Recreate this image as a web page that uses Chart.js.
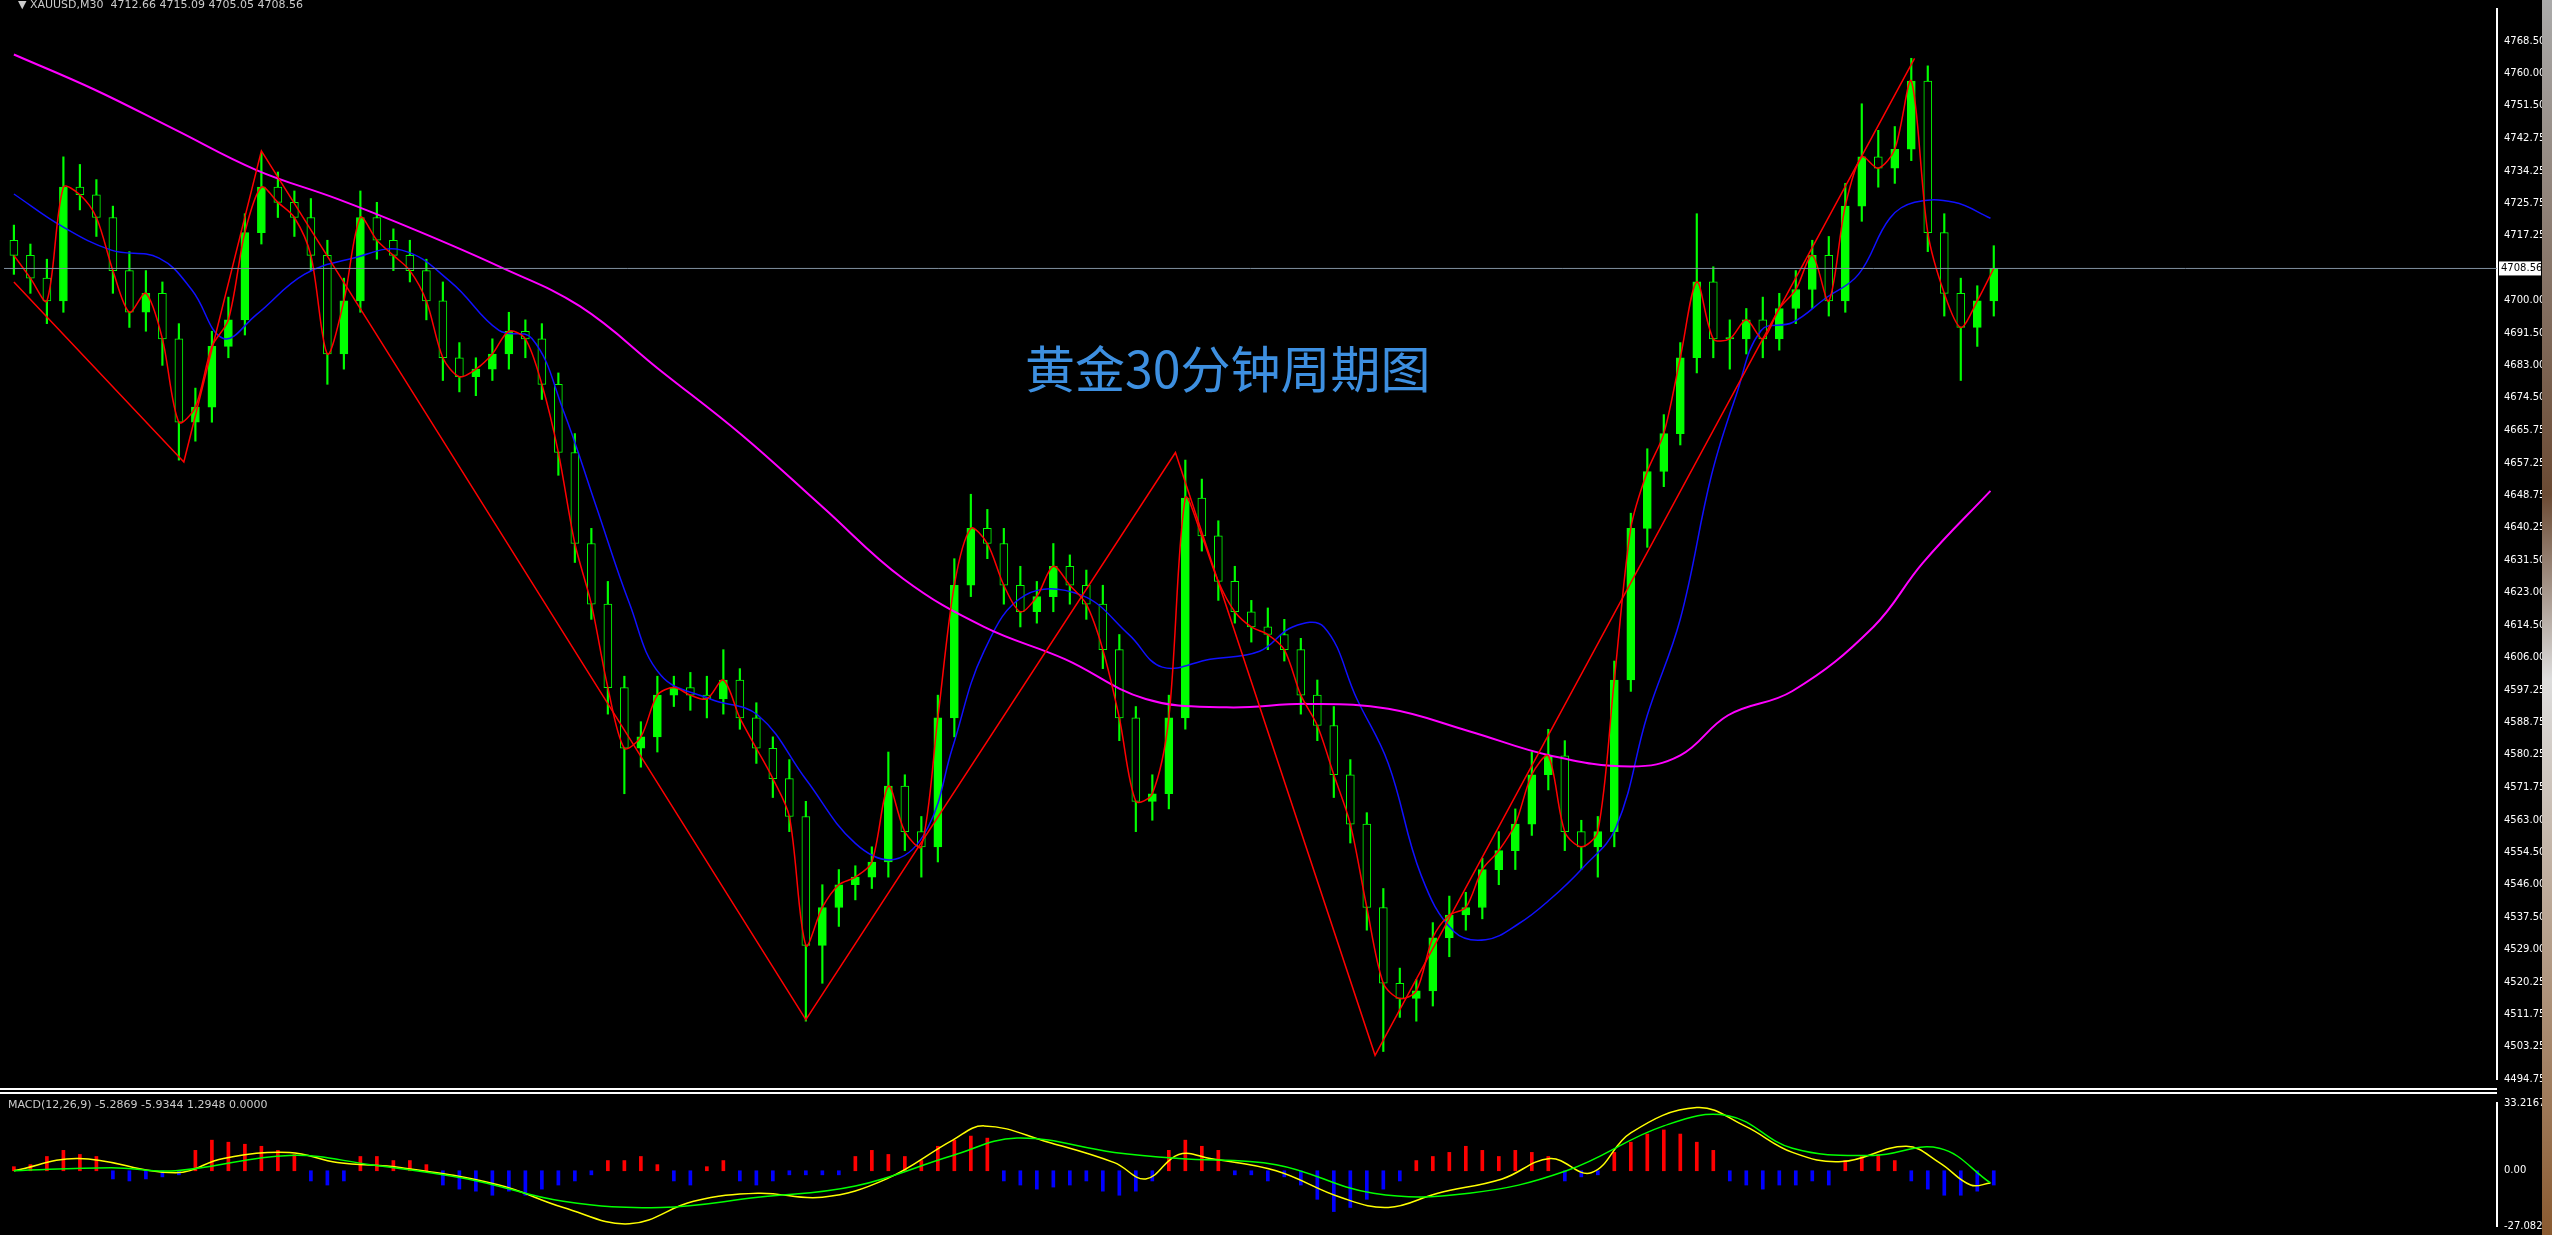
<!DOCTYPE html>
<html><head><meta charset="utf-8">
<script src="https://cdn.jsdelivr.net/npm/chart.js@4"></script>
<style>
body{margin:0;background:#000;width:2552px;height:1235px;overflow:hidden;position:relative;font-family:"DejaVu Sans",sans-serif}
#mainWrap{position:absolute;left:0;top:0;width:2545px;height:1088px}
#macdWrap{position:absolute;left:0;top:1094px;width:2545px;height:141px}
.sep{position:absolute;left:0;width:2497px;height:2px;background:#fff}
#info{position:absolute;left:18px;top:-2px;color:#ccc;font-size:11px}
#macdInfo{position:absolute;left:8px;top:1098px;color:#ccc;font-size:11px}
#title{position:absolute;left:1025px;top:330px;color:#3d8fe0;font-size:50px;font-family:"Noto Sans CJK SC",sans-serif}
#bar{position:absolute;left:2542px;top:0;width:10px;height:1235px;background:linear-gradient(#aaa,#6b4a33 40%,#ddd 55%,#8a5a30)}
</style></head><body>
<div id="mainWrap"><canvas id="mainChart"></canvas></div>
<div id="macdWrap"><canvas id="macdChart"></canvas></div>
<div class="sep" style="top:1088px"></div>
<div class="sep" style="top:1092px"></div>
<div id="info">&#9660; XAUUSD,M30 &nbsp;4712.66 4715.09 4705.05 4708.56</div>
<div id="macdInfo">MACD(12,26,9) -5.2869 -5.9344 1.2948 0.0000</div>
<div id="title">黄金30分钟周期图</div>
<div id="bar"></div>
<script>
const closes = [4712,4706,4700,4730,4728,4722,4708,4697,4702,4690,4668,4672,4688,4695,4718,4730,4726,4722,4712,4686,
4700,4722,4716,4712,4708,4700,4685,4680,4682,4686,4692,4690,4678,4660,4636,4620,4598,4582,4585,4596,
4598,4596,4595,4600,4590,4582,4574,4564,4530,4540,4546,4548,4552,4572,4560,4556,4590,4625,4640,4636,
4625,4618,4622,4630,4625,4620,4608,4590,4568,4570,4590,4648,4638,4626,4618,4614,4612,4608,4596,4588,
4575,4562,4540,4520,4516,4518,4532,4538,4540,4550,4555,4562,4575,4580,4560,4556,4560,4600,4640,4655,
4665,4685,4705,4690,4690,4695,4690,4698,4703,4712,4700,4725,4738,4735,4740,4758,4718,4702,4693,4700,4708.56];
const wickUp = [4,3,5,8,6,4,3,5,6,3,4,5,4,6,5,9,4,3,5,4,
6,7,4,3,4,3,5,4,3,4,5,3,4,3,5,4,6,3,4,5,
3,4,5,8,3,4,3,5,4,6,4,3,4,9,3,4,6,7,9,5,
4,5,4,6,3,4,5,4,3,5,6,10,5,4,4,3,5,4,3,4,
5,4,3,5,4,3,4,5,4,3,5,4,6,7,4,3,4,5,4,6,
5,4,18,4,5,3,6,4,5,4,5,6,14,7,6,6,4,5,4,4,6];
const wickDn = [5,4,6,3,4,5,6,4,5,7,10,5,4,3,4,3,4,5,4,8,
4,3,5,4,3,5,6,4,5,3,4,5,4,6,5,4,7,12,5,4,
3,4,5,4,3,4,5,4,20,10,5,4,3,4,5,8,4,5,3,4,
5,4,3,4,5,4,5,6,8,5,4,3,4,5,3,4,4,3,5,4,
6,5,6,18,5,6,4,5,4,3,4,5,3,4,5,6,8,4,3,5,
4,3,4,5,8,4,5,3,4,5,4,3,4,5,4,3,5,6,14,5,4];
const zigzag = [[0,4705],[10.3,4657.5],[15,4739.6],[48,4510.4],[70.4,4660],[82.5,4501],[115.2,4764]];
const maBlue = [[0,4728.2],[2.9,4719.7],[5.9,4713.4],[8.8,4711.3],[10.8,4702.8],[12.7,4690.1],[14.7,4696.4],[17.6,4707],
[20.6,4711.3],[23.5,4713.4],[26.5,4704.9],[29.4,4692.2],[31.4,4690.1],[33.3,4671.1],[35.3,4645.7],[37.3,4620.3],
[39.2,4601.3],[42.2,4595],[45.1,4590.7],[48,4573.8],[51,4556.9],[53.4,4552.7],[55.4,4561.1],[56.9,4582.3],
[58.8,4607.6],[61.3,4622.4],[64.7,4622.4],[67.6,4611.9],[69.6,4603.4],[72.5,4605.5],[75.5,4607.6],[77.5,4614],
[79.4,4614],[81.4,4595],[83.3,4578],[85.3,4548.4],[87.3,4533.6],[89.2,4531.5],[91.2,4535.7],[93.1,4542.1],
[95.1,4550.5],[97.1,4561.1],[99,4590.7],[101,4616.1],[102.9,4654.2],[104.4,4675.3],[105.9,4692.2],[107.8,4694.3],
[109.8,4700.7],[111.8,4707],[113.7,4721.8],[115.2,4726],[117.6,4726],[119.8,4721.8]];
const maMagenta = [[0,4765],[4.9,4755.7],[9.8,4745.1],[14.7,4734.5],[19.6,4726.9],[24.5,4718.4],[29.4,4709.1],
[34.3,4698.6],[39.2,4681.6],[44.1,4664.7],[49,4645.7],[53.9,4626.7],[58.8,4614],[63.7,4605.5],[68.6,4595],
[73.5,4592.8],[78.4,4593.7],[83.3,4592.4],[88.2,4586.5],[93.1,4580.1],[98,4577.2],[101,4580.1],[103.9,4590.7],
[107.8,4597.1],[112.7,4614],[115.7,4630.9],[119.8,4649.9]];
const priceTicks = [4768.50,4760.00,4751.50,4742.75,4734.25,4725.75,4717.25,4700.00,4691.50,4683.00,4674.50,4665.75,
4657.25,4648.75,4640.25,4631.50,4623.00,4614.50,4606.00,4597.25,4588.75,4580.25,4571.75,4563.00,4554.50,4546.00,
4537.50,4529.00,4520.25,4511.75,4503.25,4494.75];
const lastPrice = 4708.56;
const macdHist = [2,3,7,10,8,7,-4,-5,-4,-3,-2,10,15,14,13,12,10,8,-5,-7,
-5,7,7,5,5,3,-7,-9,-10,-12,-10,-12,-9,-7,-5,-2,5,5,7,3,
-5,-7,2,5,-5,-7,-5,-2,-2,-2,-2,7,10,8,7,5,12,15,17,16,
-5,-7,-9,-8,-7,-5,-10,-12,-10,-5,10,15,12,10,-2,-2,-5,-3,-7,-14,
-20,-18,-14,-9,-5,5,7,9,12,10,7,10,9,7,-5,-3,-2,9,14,18,
20,18,14,10,-5,-7,-9,-7,-7,-5,-7,5,7,8,5,-5,-9,-12,-12,-10,-7];
const macdLine = [[0,0],[3.9,6],[9.8,-1],[12.7,6],[16.7,9],[19.6,4],[23.5,1.5],[29.4,-7],[33.3,-18],[37.3,-26],
[41.2,-15],[45.1,-11],[49,-13],[52.9,-4],[56.9,15],[58.8,22],[62.7,14],[66.7,4],[68.6,-4],[70.6,8],[72.5,6],
[76.5,0],[80.4,-13],[83.3,-18],[86.3,-11],[90.2,-4],[93.1,6],[95.6,-1],[98,18.6],[102,31],[104.9,22],[107.8,9],
[110.8,4.5],[114.7,12],[116.7,4],[118.6,-7],[119.8,-6]];
const signalLine = [[0,0],[5.9,1.5],[9.8,0],[16.7,7.5],[21.6,3],[27.5,-4],[33.3,-15],[39.2,-18],[45.1,-13],[51,-7.5],
[56.9,7.5],[60.8,16],[66.7,9],[70.6,6],[76.5,3],[82.4,-11],[88.2,-11],[94.1,0],[100,22],[103.9,27],[107.8,11],
[112.7,7.5],[116.7,11],[119.8,-6]];
const macdTicks = [33.2167, 0, -27.0826];

const X_MIN = -0.6, X_MAX = 150.5;
const opens = closes.map((c, i) => (i === 0 ? 4716 : closes[i - 1]));
const pts = (arr) => arr.map(([x, y]) => ({ x, y }));
const tickFont = { family: "DejaVu Sans", size: 10 };

const wicks = closes.map((c, i) => ({ x: i, y: [Math.min(opens[i], c) - wickDn[i], Math.max(opens[i], c) + wickUp[i]] }));
const bodies = closes.map((c, i) => ({ x: i, y: [opens[i], c === opens[i] ? c + 0.3 : c] }));

const lastLine = {
    id: "lastLine",
    afterDatasetsDraw(chart) {
        const { ctx, chartArea, scales } = chart;
        const y = scales.y.getPixelForValue(lastPrice);
        ctx.save();
        ctx.strokeStyle = "#8090a0";
        ctx.lineWidth = 1;
        ctx.beginPath();
        ctx.moveTo(chartArea.left, y);
        ctx.lineTo(chartArea.right, y);
        ctx.stroke();
        ctx.fillStyle = "#fff";
        ctx.fillRect(chartArea.right + 2, y - 7, 42, 14);
        ctx.fillStyle = "#000";
        ctx.font = "10px DejaVu Sans";
        ctx.textBaseline = "middle";
        ctx.fillText(lastPrice.toFixed(2), chartArea.right + 4, y);
        ctx.restore();
    },
};

new Chart(document.getElementById("mainChart"), {
    data: {
        datasets: [
            { type: "line", data: pts(maMagenta), borderColor: "#ff00ff", borderWidth: 2, pointRadius: 0, tension: 0.4, order: 1 },
            { type: "line", data: pts(maBlue), borderColor: "#1010ff", borderWidth: 1.5, pointRadius: 0, tension: 0.4, order: 1 },
            { type: "line", data: pts(zigzag), borderColor: "#ff0000", borderWidth: 1.5, pointRadius: 0, order: 0 },
            { type: "line", data: closes.map((c, i) => ({ x: i, y: c })), borderColor: "#ff0000", borderWidth: 1.5, pointRadius: 0, tension: 0.3, order: 0 },
            { type: "bar", data: wicks, backgroundColor: "#00ff00", barThickness: 1.5, grouped: false, order: 3 },
            {
                type: "bar", data: bodies, grouped: false, barThickness: 8, order: 2,
                backgroundColor: closes.map((c, i) => (c >= opens[i] ? "#00ff00" : "#000")),
                borderColor: "#00ff00", borderWidth: 1, borderSkipped: false,
            },
        ],
    },
    options: {
        responsive: true, maintainAspectRatio: false, animation: false,
        layout: { padding: { left: 4, right: 0, top: 0, bottom: 0 } },
        plugins: { legend: { display: false }, tooltip: { enabled: false } },
        scales: {
            x: { type: "linear", min: X_MIN, max: X_MAX, offset: false, display: false },
            y: {
                position: "right", min: 4494.75, max: 4777.0,
                afterBuildTicks: (ax) => { ax.ticks = priceTicks.map((v) => ({ value: v })); },
                ticks: { color: "#fff", font: tickFont, padding: 3, callback: (v) => v.toFixed(2) },
                grid: { display: false, drawTicks: true, tickLength: 4, tickColor: "#fff" },
                border: { color: "#fff", width: 2 },
                afterFit: (ax) => { ax.width = 48; },
            },
        },
    },
    plugins: [lastLine],
});

new Chart(document.getElementById("macdChart"), {
    data: {
        datasets: [
            { type: "line", data: pts(signalLine), borderColor: "#00ff00", borderWidth: 1.5, pointRadius: 0, tension: 0.4 },
            { type: "line", data: pts(macdLine), borderColor: "#ffff00", borderWidth: 1.5, pointRadius: 0, tension: 0.4 },
            {
                type: "bar", data: macdHist.map((v, i) => ({ x: i, y: v })), barThickness: 3,
                backgroundColor: macdHist.map((v) => (v >= 0 ? "#ff0000" : "#0000ff")),
            },
        ],
    },
    options: {
        responsive: true, maintainAspectRatio: false, animation: false,
        layout: { padding: { left: 4, right: 0, top: 0, bottom: 0 } },
        plugins: { legend: { display: false }, tooltip: { enabled: false } },
        scales: {
            x: { type: "linear", min: X_MIN, max: X_MAX, offset: false, display: false },
            y: {
                position: "right", min: -27.0826, max: 33.2167,
                afterBuildTicks: (ax) => { ax.ticks = macdTicks.map((v) => ({ value: v })); },
                ticks: { color: "#fff", font: tickFont, padding: 3, callback: (v) => (v === 0 ? "0.00" : v.toFixed(4)) },
                grid: { display: false, tickLength: 4, tickColor: "#fff" },
                border: { color: "#fff", width: 2 },
                afterFit: (ax) => { ax.width = 48; },
            },
        },
    },
});
</script>
</body></html>
